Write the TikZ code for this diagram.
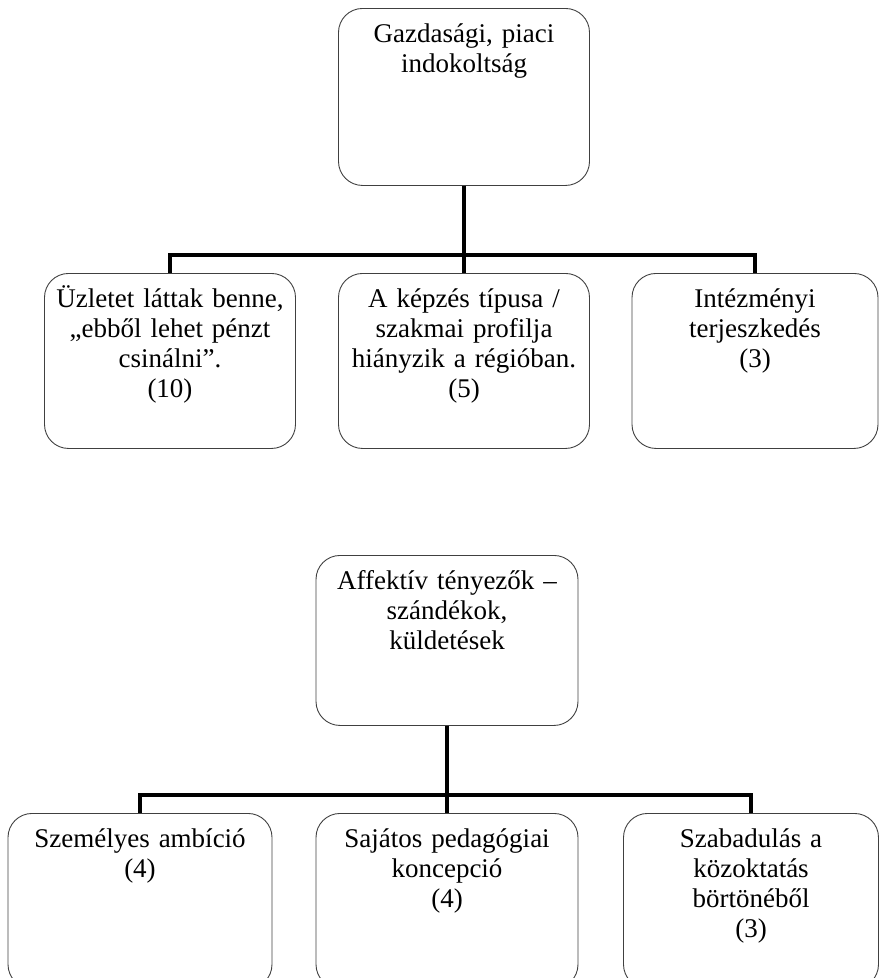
\documentclass[tikz,border=0pt]{standalone}
\usepackage{fontspec}
\setmainfont{Liberation Serif}
\def\boxhead{22pt}

\begin{document}
\begin{tikzpicture}[x=1pt,y=-1pt,font=\fontsize{27}{30}\selectfont]
    \tikzstyle{box}=[draw=black!75,line width=0.9pt,rounded corners=24pt,anchor=north,align=center,inner xsep=6pt,inner ysep=12pt,text height=\boxhead]
    \tikzstyle{upper box}=[box,text width=239pt,text depth=129pt]
    \tikzstyle{lower box}=[box,text width=250pt,text depth=129pt]
    \tikzstyle{link}=[line width=4.5pt]

    \clip (0,0) rectangle (879,978);

    % Draw the economic parent box
    \node[upper box,text depth=131pt] (G) at (464,8) {Gazdasági, piaci\\indokoltság};

    % Draw the economic reasons
    \foreach \name/\x/\w/\txt in {1/170/239/{Üzletet láttak benne,\\„ebből lehet pénzt\\csinálni”.\\(10)},
                                  2/464/239/{A képzés típusa /\\szakmai profilja\\hiányzik a régióban.\\(5)},
                                  3/755/234/{Intézményi\\terjeszkedés\\(3)}}
        \node[upper box,text width=\w pt] (G-\name) at (\x,273) {\txt};

    % Draw the affective parent box
    \node[lower box,text depth=124pt] (A) at (447,555) {Affektív tényezők –\\szándékok,\\küldetések};

    % Draw the affective reasons
    \foreach \name/\x/\w/\txt in {1/140/252/{Személyes ambíció\\(4)},
                                  2/447/250/{Sajátos pedagógiai\\koncepció\\(4)},
                                  3/751/243/{Szabadulás a\\közoktatás\\börtönéből\\(3)}}
        \node[lower box,text width=\w pt] (A-\name) at (\x,813) {\txt};

    % Connect every parent with its children through a bus line
    \coordinate (G-bus) at (464,255);
    \coordinate (A-bus) at (447,795);
    \draw[link] (G.south) -- (G-bus);
    \draw[link] (A.south) -- (A-bus);
    \foreach \name in {1,...,3}
    {
        \draw[link] (G-bus) -| (G-\name.north);
        \draw[link] (A-bus) -| (A-\name.north);
    }
\end{tikzpicture}
\end{document}
